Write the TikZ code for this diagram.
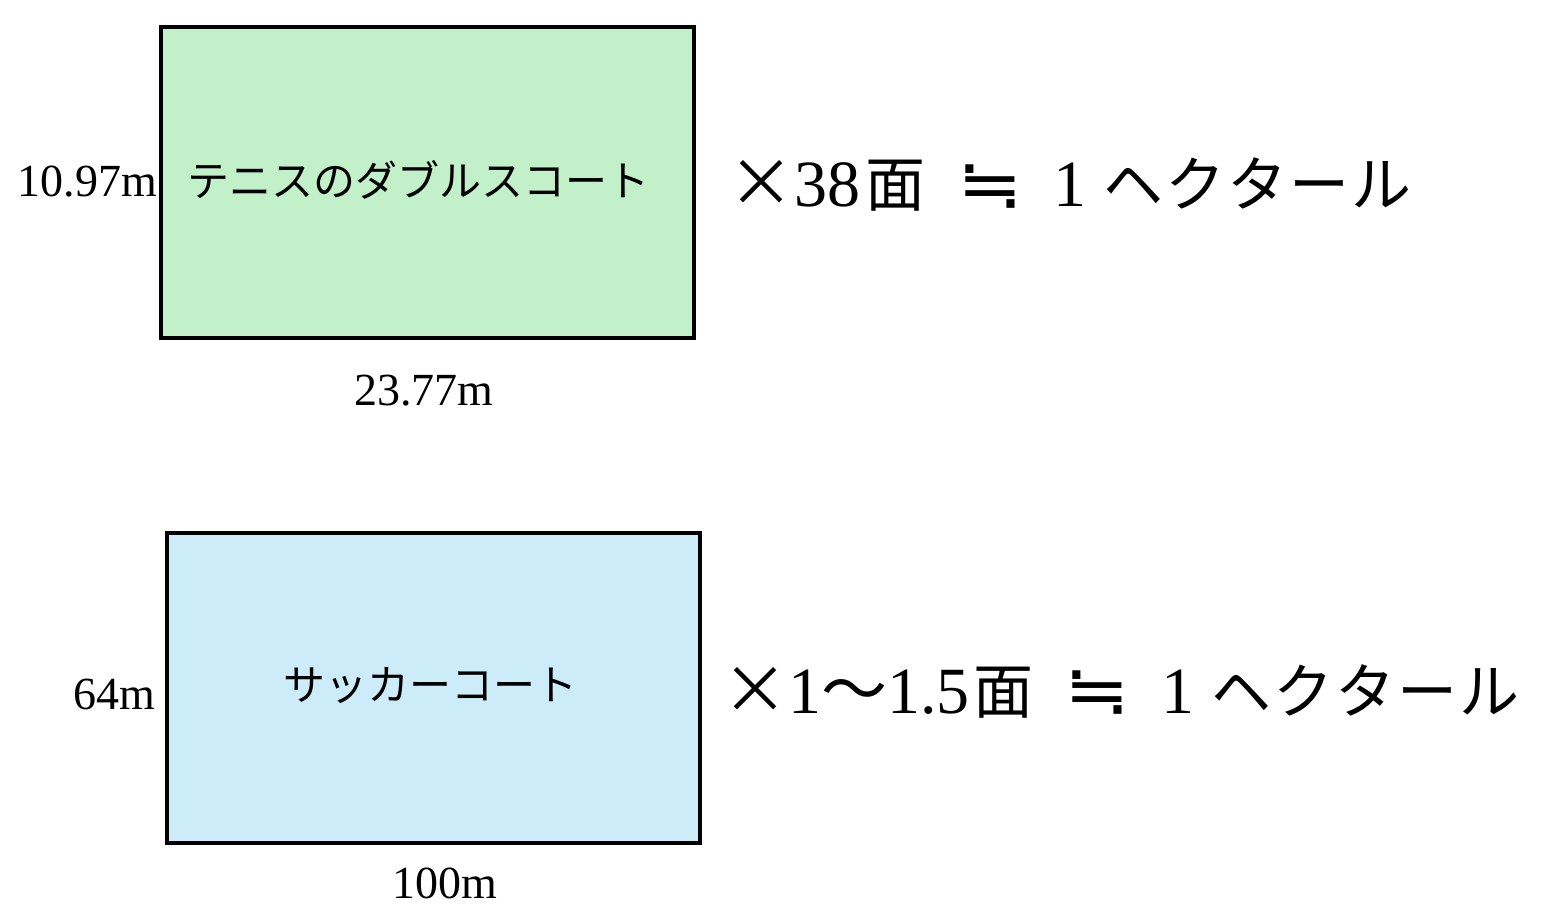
\documentclass[tikz,border=0pt]{standalone}
\usepackage{fontspec}
\setmainfont{Liberation Serif}
\newfontfamily\jp{Noto Sans CJK JP}
\newfontfamily\sym{DejaVu Sans}
\definecolor{tennisgreen}{RGB}{194,240,200}
\definecolor{soccerblue}{RGB}{204,236,250}
\newcommand\kb[1]{\makebox[62pt]{#1}}
\tikzset{
  court/.style={draw=black, line width=3.5pt},
  dim/.style={font=\fontsize{46}{50}\selectfont, inner sep=0pt},
  label/.style={font=\jp\fontsize{42}{46}\selectfont, inner sep=0pt},
  eqn/.style={font=\fontsize{66}{70}\selectfont, inner sep=0pt, anchor=base west},
  eqj/.style={font=\jp\fontsize{60}{64}\selectfont, inner sep=0pt, anchor=base},
  eqs/.style={font=\sym\fontsize{56}{60}\selectfont, inner sep=0pt, anchor=center, xscale=1.4, yscale=1.25},
}
\begin{document}
\begin{tikzpicture}[x=1pt,y=-1pt]
\useasboundingbox (0,0) rectangle (1543,909);
% tennis
\draw[court, fill=tennisgreen] (161,27) rectangle (694,338);
\node[label] (tl) at (418,180) {テニスのダブルスコート};
\node[dim, anchor=base east] (th) at (157,197) {10.97m};
\node[dim, anchor=base] (tw) at (424,406) {23.77m};
\node[eqn] (t1) at (728,207) {{\jp ×}38};
\node[eqj] (t2) at (895,207) {面};
\node[eqs] (t3) at (990,187) {≒};
\node[eqn, anchor=base] (t4) at (1070,207) {1};
\node[eqj, anchor=base west] (t5) at (1102,207) {\kb{ヘ}\kb{ク}\kb{タ}\kb{ー}\kb{ル}};
% soccer
\draw[court, fill=soccerblue] (167,533) rectangle (700,843);
\node[label] (sl) at (430,686) {サッカーコート};
\node[dim, anchor=base east] (sh) at (155,709) {64m};
\node[dim, anchor=base] (sw) at (445,898) {100m};
\node[eqn] (s1) at (722,713) {{\jp ×}1{\jp 〜}1.5};
\node[eqj] (s2) at (1003,713) {面};
\node[eqs] (s3) at (1097,693) {≒};
\node[eqn, anchor=base] (s4) at (1178,713) {1};
\node[eqj, anchor=base west] (s5) at (1210,713) {\kb{ヘ}\kb{ク}\kb{タ}\kb{ー}\kb{ル}};
\end{tikzpicture}
\end{document}
